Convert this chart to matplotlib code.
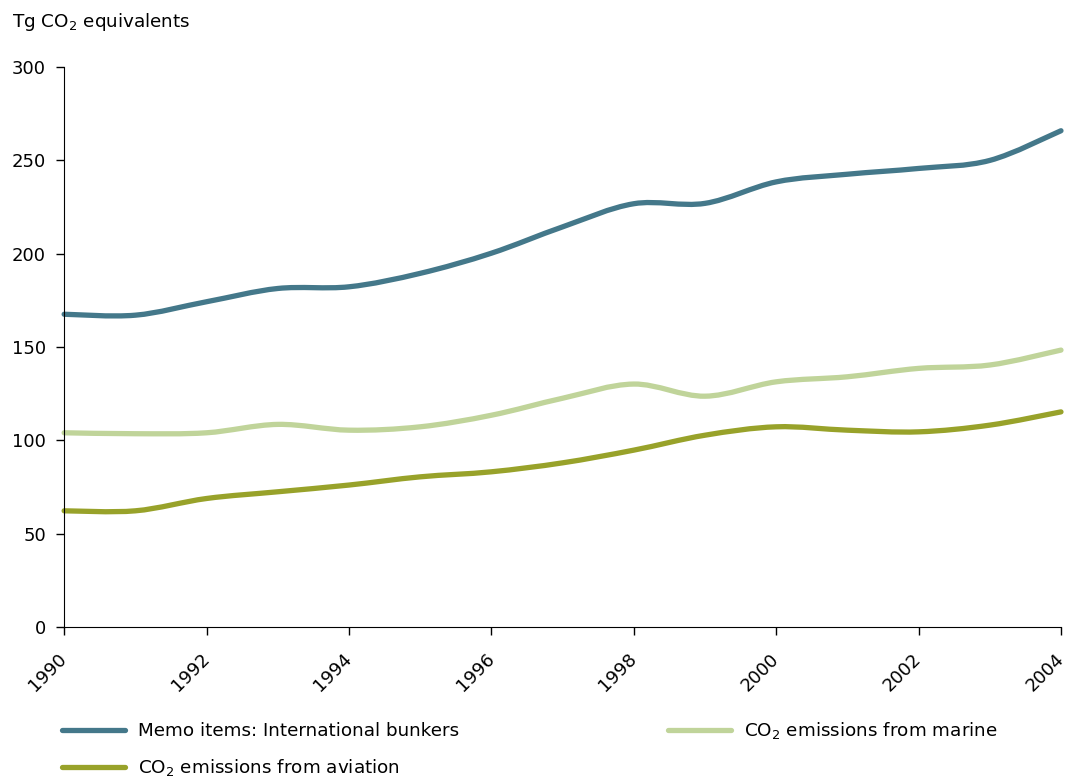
import matplotlib
matplotlib.use('Agg')
import matplotlib.pyplot as plt
from matplotlib.path import Path
from matplotlib.patches import PathPatch
from matplotlib.lines import Line2D
import numpy as np

plt.rcParams['font.family'] = 'DejaVu Sans'
plt.rcParams['mathtext.default'] = 'regular'

# data (Tg CO2 equivalents)
years = list(range(1990, 2005))
bunkers = [167.6, 167.1, 174.3, 181.4, 182.3, 189.5, 200.3, 214.4, 226.8, 227.0,
           238.5, 242.6, 245.7, 250.0, 265.9]
marine = [104.1, 103.6, 104.1, 108.6, 105.5, 107.3, 113.5, 122.6, 130.2, 123.7,
          131.4, 134.1, 138.6, 140.4, 148.4]
aviation = [62.3, 62.3, 68.9, 72.5, 76.1, 80.5, 83.2, 88.0, 94.8, 102.8,
            107.3, 105.5, 104.6, 108.2, 115.3]

labels = ['Memo items: International bunkers',
          r'CO$_2$ emissions from marine',
          r'CO$_2$ emissions from aviation']
colors = ['#44788A', '#C0D49A', '#98A22A']


def smooth_path(x, y):
    # excel-like smoothed line: catmull-rom segments as cubic bezier curves
    pts = np.column_stack([x, y]).astype(float)
    n = len(pts)
    verts = [pts[0]]
    codes = [Path.MOVETO]
    for i in range(n - 1):
        p0 = pts[max(i - 1, 0)]
        p1 = pts[i]
        p2 = pts[i + 1]
        p3 = pts[min(i + 2, n - 1)]
        c1 = p1 + (p2 - p0) / 6.0
        c2 = p2 - (p3 - p1) / 6.0
        verts += [c1, c2, p2]
        codes += [Path.CURVE4] * 3
    return Path(verts, codes)


fig = plt.figure(figsize=(10.69, 7.8), dpi=100)
ax = fig.add_axes([0.06, 0.196, 0.9325, 0.718])

for vals, col in zip([bunkers, marine, aviation], colors):
    patch = PathPatch(smooth_path(years, vals), facecolor='none', edgecolor=col,
                      lw=3.8, capstyle='round', joinstyle='round', clip_on=False)
    ax.add_patch(patch)

ax.set_xlim(1990, 2004)
ax.set_ylim(0, 300)
ax.set_xticks(range(1990, 2005, 2))
ax.set_yticks(range(0, 301, 50))
ax.tick_params(axis='both', labelsize=13, length=6, width=1, direction='out', colors='black')
ax.tick_params(axis='y', pad=7)
ax.tick_params(axis='x', pad=15)
for lab in ax.get_xticklabels():
    lab.set_rotation(45)
    lab.set_ha('right')
    lab.set_va('center')
    lab.set_rotation_mode('anchor')
ax.spines['top'].set_visible(False)
ax.spines['right'].set_visible(False)

fig.text(12 / 1069, 1 - 22 / 780, r'Tg CO$_2$ equivalents', fontsize=13.2, va='center', ha='left')

handles = [Line2D([], [], color=colors[0], lw=3.8, solid_capstyle='round'),
           Line2D([], [], color=colors[2], lw=3.8, solid_capstyle='round'),
           Line2D([], [], color=colors[1], lw=3.8, solid_capstyle='round')]
fig.legend(handles, [labels[0], labels[2], labels[1]], ncol=2, frameon=False,
           loc='upper left', bbox_to_anchor=(62 / 1069, 1 - 720 / 780),
           fontsize=13.2, handlelength=3.45, handletextpad=0.7,
           columnspacing=11.4, labelspacing=0.95, borderaxespad=0, borderpad=0)

fig.savefig('out.png', dpi=100)
